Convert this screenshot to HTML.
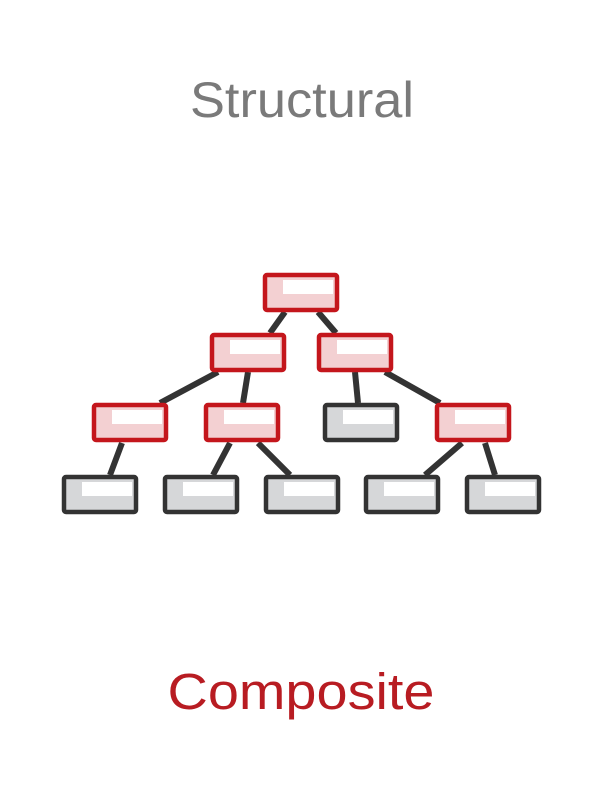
<!DOCTYPE html>
<html><head><meta charset="utf-8"><style>
html,body{margin:0;padding:0;background:#fff;}
svg{display:block;}
</style></head><body>
<svg width="604" height="788" viewBox="0 0 604 788">
<text x="302" y="117" text-anchor="middle" font-family="Liberation Sans, sans-serif" font-size="50" fill="#7a7a7a" textLength="224" lengthAdjust="spacingAndGlyphs">Structural</text>
<g id="edges" stroke="#333" stroke-width="6"></g>
<g id="nodes"></g>
<text x="301" y="709" text-anchor="middle" font-family="Liberation Sans, sans-serif" font-size="51" fill="#b81c22" textLength="267" lengthAdjust="spacingAndGlyphs">Composite</text>
</svg>
<script>
const nodeX=[263,210,317,92,204,323,435,62,163,264,364,465];
const nodeY=[273,333,333,403,403,403,403,475,475,475,475,475];
const nodeRed=[1,1,1,1,1,0,1,0,0,0,0,0];
const edges=[[285,312,270,333],[318,312,336,333],[218,372,160,403],[248,372,243,403],[355,372,358,403],[385,372,440,403],[122,443,110,475],[230,443,213,475],[258,443,290,475],[462,443,425,475],[485,443,495,475]];
const NS='http://www.w3.org/2000/svg';
const eg=document.getElementById('edges');
edges.forEach(e=>{
 const l=document.createElementNS(NS,'line');
 l.setAttribute('x1',e[0]);l.setAttribute('y1',e[1]);l.setAttribute('x2',e[2]);l.setAttribute('y2',e[3]);
 
 
 eg.appendChild(l);
});
const ng=document.getElementById('nodes');
nodeX.forEach((x,i)=>{
 const y=nodeY[i],red=nodeRed[i];
 const g=document.createElementNS(NS,'g');
 
 
 const r=document.createElementNS(NS,'rect');
 r.setAttribute('x',x+2);r.setAttribute('y',y+2);r.setAttribute('width',72);r.setAttribute('height',35);r.setAttribute('rx',2);
 r.setAttribute('fill',red?'#f3d0d2':'#d6d7d9');r.setAttribute('stroke',red?'#c4161c':'#333');r.setAttribute('stroke-width',4.5);
 g.appendChild(r);
 const w=document.createElementNS(NS,'rect');
 w.setAttribute('x',x+20);w.setAttribute('y',y+7);w.setAttribute('width',50);w.setAttribute('height',14);w.setAttribute('fill','#fff');
 g.appendChild(w);
 ng.appendChild(g);
});
</script>
</body></html>
